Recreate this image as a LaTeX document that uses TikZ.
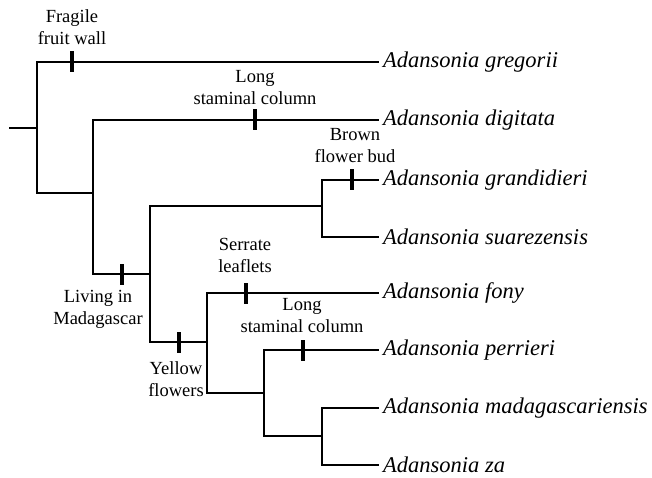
\documentclass[tikz,border=0pt]{standalone}
\usepackage{fontspec}
\setmainfont{Liberation Serif}
\begin{document}
\begin{tikzpicture}[x=1pt,y=-1pt,
  br/.style={line width=2pt, line cap=rect},
  tickmark/.style={fill=black, draw=none, minimum width=4pt, minimum height=21pt, inner sep=0pt},
  lbl/.style={font=\fontsize{18.5}{22}\selectfont, align=center, inner sep=0pt},
  leaf/.style={font=\fontsize{22.5}{26}\selectfont\itshape, anchor=west, inner xsep=5pt, inner ysep=0pt}]
\useasboundingbox (0,0) rectangle (652,478);
% internal nodes
\coordinate (r0) at (10,128);
\coordinate (n1) at (37,128);
\coordinate (n2) at (93,193);
\coordinate (n3) at (150,274);
\coordinate (n4) at (322,206);
\coordinate (n5) at (207,342);
\coordinate (n6) at (264,393);
\coordinate (n7) at (322,436);
% leaves
\node[leaf] (gre) at (378,62) {Adansonia gregorii};
\node[leaf] (dig) at (378,120) {Adansonia digitata};
\node[leaf] (gra) at (378,180) {Adansonia grandidieri};
\node[leaf] (sua) at (378,237) {Adansonia suarezensis};
\node[leaf] (fon) at (378,293) {Adansonia fony};
\node[leaf] (per) at (378,350) {Adansonia perrieri};
\node[leaf] (mad) at (378,408) {Adansonia madagascariensis};
\node[leaf] (za)  at (378,465) {Adansonia za};
% branches
\draw[br] (r0) -- (n1);
\draw[br] (n1) |- (gre);
\draw[br] (n1) |- (n2);
\draw[br] (n2) |- (dig);
\draw[br] (n2) |- (n3);
\draw[br] (n3) |- (n4);
\draw[br] (n3) |- (n5);
\draw[br] (n4) |- (gra);
\draw[br] (n4) |- (sua);
\draw[br] (n5) |- (fon);
\draw[br] (n5) |- (n6);
\draw[br] (n6) |- (per);
\draw[br] (n6) |- (n7);
\draw[br] (n7) |- (mad);
\draw[br] (n7) |- (za);
% character marks
\node[tickmark] (t1) at (72,62) {};
\node[tickmark] (t2) at (255,120) {};
\node[tickmark] (t3) at (352,180) {};
\node[tickmark] (t4) at (122,274) {};
\node[tickmark] (t5) at (179,342) {};
\node[tickmark] (t6) at (246,293) {};
\node[tickmark] (t7) at (303,350) {};
% labels
\node[lbl] (l1) at (72,27) {Fragile\\fruit wall};
\node[lbl] (l2) at (255,88) {Long\\staminal column};
\node[lbl] (l3) at (355,146) {Brown\\flower bud};
\node[lbl] (l4) at (98,309) {Living in\\Madagascar};
\node[lbl] (l5) at (245,255) {Serrate\\leaflets};
\node[lbl] (l6) at (176,379) {Yellow\\flowers};
\node[lbl] (l7) at (302,316) {Long\\staminal column};
\end{tikzpicture}
\end{document}
